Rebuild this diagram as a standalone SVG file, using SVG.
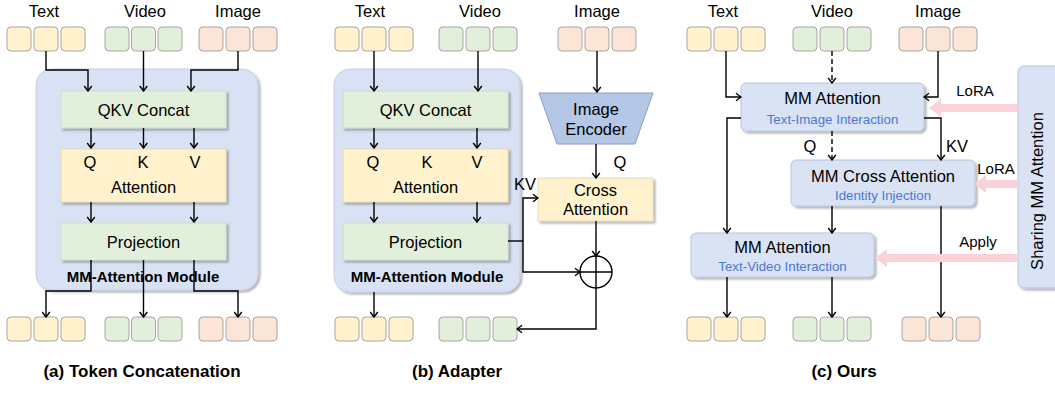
<svg xmlns="http://www.w3.org/2000/svg" width="1055" height="394" viewBox="0 0 1055 394">
<defs>
<filter id="sh" x="-10%" y="-10%" width="125%" height="130%"><feDropShadow dx="2" dy="2" stdDeviation="1.3" flood-color="#000" flood-opacity="0.3"/></filter>
<marker id="ah" viewBox="0 0 10 10" refX="9" refY="5" markerWidth="10" markerHeight="10" markerUnits="userSpaceOnUse" orient="auto"><path d="M4,1.2 L9,5 L4,8.8" fill="none" stroke="#000" stroke-width="1.4"/></marker>
<style>
text{font-family:"Liberation Sans",Arial,sans-serif;fill:#000}
.lbl{font-size:16.5px;text-anchor:middle}
.sm{font-size:15px;text-anchor:middle}
.sub{font-size:13.3px;text-anchor:middle;fill:#4a78d6}
.bold{font-weight:bold;text-anchor:middle}
.ty{fill:#fff2cc;stroke:#a6a6a6;stroke-width:1}
.tg{fill:#e2efda;stroke:#a6a6a6;stroke-width:1}
.tp{fill:#fbe5d6;stroke:#a6a6a6;stroke-width:1}
.mod{fill:#d9e1f4;stroke:#c5cfe6;stroke-width:1}
.gbox{fill:#e2efda;stroke:#d0dcc6;stroke-width:1}
.ybox{fill:#fff2cc;stroke:#e8dcb5;stroke-width:1}
.bbox{fill:#dae3f3;stroke:#b8c5e0;stroke-width:1}
.ln{fill:none;stroke:#000;stroke-width:1.4}
.arr{fill:none;stroke:#000;stroke-width:1.4;marker-end:url(#ah)}
.dash{stroke-dasharray:5,3}
.pink{fill:#f9d2da}
</style>
</defs>

<!-- Panel A -->
<g id="a-labels">
<text class="lbl" x="44" y="16.5">Text</text>
<text class="lbl" x="145" y="16.5">Video</text>
<text class="lbl" x="238" y="16.5">Image</text>
</g>
<g id="a-tokens-in">
<rect class="ty" x="7" y="27" width="24" height="24" rx="4"/><rect class="ty" x="34" y="27" width="24" height="24" rx="4"/><rect class="ty" x="61" y="27" width="24" height="24" rx="4"/>
<rect class="tg" x="105" y="27" width="24" height="24" rx="4"/><rect class="tg" x="131.5" y="27" width="24" height="24" rx="4"/><rect class="tg" x="158" y="27" width="24" height="24" rx="4"/>
<rect class="tp" x="199" y="27" width="24" height="24" rx="4"/><rect class="tp" x="226" y="27" width="24" height="24" rx="4"/><rect class="tp" x="253" y="27" width="24" height="24" rx="4"/>
</g>
<g id="a-module">
<rect class="mod" x="36" y="69" width="222" height="221" rx="16" filter="url(#sh)"/>
<text class="bold" x="143" y="282" font-size="15">MM-Attention Module</text>
</g>
<g id="a-qkv"><rect class="gbox" x="61" y="91" width="165" height="37" filter="url(#sh)"/><text class="lbl" x="143.5" y="115.5">QKV Concat</text></g>
<g id="a-attn"><rect class="ybox" x="61" y="149" width="165" height="53" filter="url(#sh)"/>
<text class="lbl" x="90" y="168">Q</text><text class="lbl" x="143" y="168">K</text><text class="lbl" x="195" y="168">V</text>
<text class="lbl" x="143.5" y="193">Attention</text></g>
<g id="a-proj"><rect class="gbox" x="61" y="223" width="165" height="37" filter="url(#sh)"/><text class="lbl" x="143.5" y="247.5">Projection</text></g>
<g id="a-tokens-out">
<rect class="ty" x="7" y="317" width="24" height="24" rx="4"/><rect class="ty" x="34" y="317" width="24" height="24" rx="4"/><rect class="ty" x="61" y="317" width="24" height="24" rx="4"/>
<rect class="tg" x="105" y="317" width="24" height="24" rx="4"/><rect class="tg" x="131.5" y="317" width="24" height="24" rx="4"/><rect class="tg" x="158" y="317" width="24" height="24" rx="4"/>
<rect class="tp" x="199" y="317" width="24" height="24" rx="4"/><rect class="tp" x="226" y="317" width="24" height="24" rx="4"/><rect class="tp" x="253" y="317" width="24" height="24" rx="4"/>
</g>
<text class="bold" x="142" y="377" font-size="17">(a) Token Concatenation</text>

<!-- Panel B -->
<g id="b-labels">
<text class="lbl" x="370" y="16.5">Text</text>
<text class="lbl" x="480" y="16.5">Video</text>
<text class="lbl" x="597" y="16.5">Image</text>
</g>
<g id="b-tokens-in">
<rect class="ty" x="335" y="27" width="24" height="24" rx="4"/><rect class="ty" x="362" y="27" width="24" height="24" rx="4"/><rect class="ty" x="389" y="27" width="24" height="24" rx="4"/>
<rect class="tg" x="439" y="27" width="24" height="24" rx="4"/><rect class="tg" x="466" y="27" width="24" height="24" rx="4"/><rect class="tg" x="493" y="27" width="24" height="24" rx="4"/>
<rect class="tp" x="558" y="27" width="24" height="24" rx="4"/><rect class="tp" x="585" y="27" width="24" height="24" rx="4"/><rect class="tp" x="612" y="27" width="24" height="24" rx="4"/>
</g>
<g id="b-module">
<rect class="mod" x="334" y="69" width="186" height="223" rx="16" filter="url(#sh)"/>
<text class="bold" x="427" y="282" font-size="15">MM-Attention Module</text>
</g>
<g id="b-qkv"><rect class="gbox" x="343" y="91" width="165" height="37" filter="url(#sh)"/><text class="lbl" x="425.5" y="115.5">QKV Concat</text></g>
<g id="b-attn"><rect class="ybox" x="343" y="149" width="165" height="53" filter="url(#sh)"/>
<text class="lbl" x="373" y="168">Q</text><text class="lbl" x="427" y="168">K</text><text class="lbl" x="477" y="168">V</text>
<text class="lbl" x="425.5" y="193">Attention</text></g>
<g id="b-proj"><rect class="gbox" x="343" y="223" width="165" height="37" filter="url(#sh)"/><text class="lbl" x="425.5" y="247.5">Projection</text></g>
<g id="b-encoder"><polygon points="539,93 653,93 635,144 557,144" fill="#b4c7e7" stroke="#8a9cc4" stroke-width="1"/>
<text class="lbl" x="596" y="115">Image</text><text class="lbl" x="596" y="135">Encoder</text></g>
<g id="b-cross"><rect class="ybox" x="538" y="178" width="115" height="43" filter="url(#sh)"/>
<text class="lbl" x="595.5" y="196">Cross</text><text class="lbl" x="595.5" y="215">Attention</text></g>
<g id="b-sum"><circle cx="596" cy="272" r="16" fill="#fff" stroke="#000" stroke-width="1.4"/>
<path class="ln" d="M580,272 H612 M596,256 V288"/></g>
<g id="b-tokens-out">
<rect class="ty" x="335" y="317" width="24" height="24" rx="4"/><rect class="ty" x="362" y="317" width="24" height="24" rx="4"/><rect class="ty" x="389" y="317" width="24" height="24" rx="4"/>
<rect class="tg" x="439" y="317" width="24" height="24" rx="4"/><rect class="tg" x="466" y="317" width="24" height="24" rx="4"/><rect class="tg" x="493" y="317" width="24" height="24" rx="4"/>
</g>
<text class="bold" x="457" y="377" font-size="17">(b) Adapter</text>

<!-- Panel C -->
<g id="c-labels">
<text class="lbl" x="723" y="16.5">Text</text>
<text class="lbl" x="832" y="16.5">Video</text>
<text class="lbl" x="938" y="16.5">Image</text>
</g>
<g id="c-tokens-in">
<rect class="ty" x="687" y="27" width="24" height="24" rx="4"/><rect class="ty" x="714" y="27" width="24" height="24" rx="4"/><rect class="ty" x="741" y="27" width="24" height="24" rx="4"/>
<rect class="tg" x="793" y="27" width="24" height="24" rx="4"/><rect class="tg" x="820" y="27" width="24" height="24" rx="4"/><rect class="tg" x="847" y="27" width="24" height="24" rx="4"/>
<rect class="tp" x="899" y="27" width="24" height="24" rx="4"/><rect class="tp" x="926" y="27" width="24" height="24" rx="4"/><rect class="tp" x="953" y="27" width="24" height="24" rx="4"/>
</g>
<g id="c-mm1"><rect class="bbox" x="741" y="83" width="183" height="48" rx="5" filter="url(#sh)"/>
<text class="lbl" x="832.5" y="104">MM Attention</text><text class="sub" x="832.5" y="124">Text-Image Interaction</text></g>
<g id="c-cross"><rect class="bbox" x="791" y="160" width="184" height="46" rx="5" filter="url(#sh)"/>
<text class="lbl" x="883" y="182">MM Cross Attention</text><text class="sub" x="883" y="200">Identity Injection</text></g>
<g id="c-mm2"><rect class="bbox" x="691" y="233" width="183" height="44" rx="5" filter="url(#sh)"/>
<text class="lbl" x="782.5" y="253">MM Attention</text><text class="sub" x="782.5" y="271">Text-Video Interaction</text></g>
<g id="c-share"><rect class="bbox" x="1018" y="66" width="45" height="222" rx="6" filter="url(#sh)"/>
<text class="lbl" font-size="17" transform="translate(1043,191) rotate(-90)">Sharing MM Attention</text></g>
<g id="c-tokens-out">
<rect class="ty" x="687" y="317" width="24" height="24" rx="4"/><rect class="ty" x="714" y="317" width="24" height="24" rx="4"/><rect class="ty" x="741" y="317" width="24" height="24" rx="4"/>
<rect class="tg" x="793" y="317" width="24" height="24" rx="4"/><rect class="tg" x="820" y="317" width="24" height="24" rx="4"/><rect class="tg" x="847" y="317" width="24" height="24" rx="4"/>
<rect class="tp" x="902" y="317" width="24" height="24" rx="4"/><rect class="tp" x="929" y="317" width="24" height="24" rx="4"/><rect class="tp" x="956" y="317" width="24" height="24" rx="4"/>
</g>
<text class="bold" x="844" y="377" font-size="17">(c) Ours</text>

<!-- Connectors -->
<g id="connectors">
<!-- A -->
<path class="arr" d="M46,51 V70 H88 V91"/>
<path class="arr" d="M143.5,51 V91"/>
<path class="arr" d="M238,51 V70 H191 V91"/>
<path class="arr" d="M91,128 V148"/>
<path class="arr" d="M143.5,128 V148"/>
<path class="arr" d="M194,128 V148"/>
<path class="arr" d="M91,202 V222"/>
<path class="arr" d="M194,202 V222"/>
<path class="arr" d="M91,260 V291 H46 V317"/>
<path class="arr" d="M143.5,260 V317"/>
<path class="arr" d="M194,260 V291 H238 V317"/>
<!-- B -->
<path class="arr" d="M374,51 V91"/>
<path class="arr" d="M478,51 V91"/>
<path class="arr" d="M597,51 V92"/>
<path class="arr" d="M374,128 V148"/>
<path class="arr" d="M477,128 V148"/>
<path class="arr" d="M374,202 V222"/>
<path class="arr" d="M477,202 V222"/>
<path class="arr" d="M596,144 V178"/>
<text class="lbl" x="620" y="168">Q</text>
<path class="ln" d="M508,241 H523"/>
<path class="arr" d="M523,241 V198 H538"/>
<path class="arr" d="M523,241 V272 H580"/>
<text class="lbl" x="525" y="190">KV</text>
<path class="arr" d="M596,221 V256"/>
<path class="arr" d="M596,288 V329 H517"/>
<path class="arr" d="M374,292 V317"/>
<!-- C -->
<path class="arr" d="M726,51 V97 H741"/>
<path class="arr dash" d="M832,51 V83"/>
<path class="arr" d="M938,51 V97 H924"/>
<path class="arr" d="M741,118 H727 V233"/>
<path class="arr dash" d="M832,131 V160"/>
<text class="lbl" x="810" y="152">Q</text>
<path class="arr" d="M924,118 H941 V160"/>
<text class="lbl" x="957" y="152">KV</text>
<path class="arr" d="M832,206 V233"/>
<path class="arr" d="M941,206 V317"/>
<path class="arr" d="M727,277 V317"/>
<path class="arr" d="M832,277 V317"/>
<!-- pink arrows -->
<polygon class="pink" points="1017,104 941,104 941,99 929,108 941,117 941,112 1017,112"/>
<polygon class="pink" points="1017,180 986,180 986,175 974,184 986,193 986,188 1017,188"/>
<polygon class="pink" points="1017,254 887,254 887,249 875,258 887,267 887,262 1017,262"/>
<text class="sm" x="975" y="96">LoRA</text>
<text class="sm" x="996" y="174">LoRA</text>
<text class="sm" x="978" y="247">Apply</text>
</g>
</svg>
